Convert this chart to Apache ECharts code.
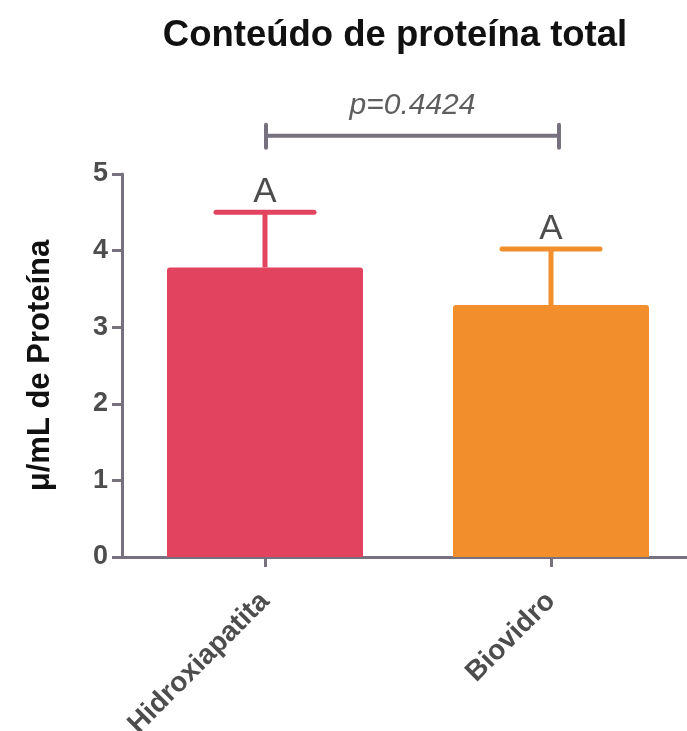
<!DOCTYPE html>
<html>
<head>
<meta charset="utf-8">
<script src="https://cdn.jsdelivr.net/npm/echarts@6/dist/echarts.min.js"></script>
<style>
  html, body { margin: 0; padding: 0; background: #fff; }
  #chart { width: 687px; height: 731px; }
</style>
</head>
<body>
<div id="chart"></div>
<script>
// Total protein content per material (mean + upper error)
const categories = ['Hidroxiapatita', 'Biovidro'];
const means = [3.78, 3.29];
const errors = [0.72, 0.73];
const groupLetters = ['A', 'A'];
const barColors = ['#E2445F', '#F28E2C'];
const yTicks = [0, 1, 2, 3, 4, 5];
const pLabel = 'p=0.4424';
const bracketLevel = 5.50;

const axisColor = '#77717F';
const labelColor = '#4D4D4D';
const font = 'Arial, "Liberation Sans", Helvetica, sans-serif';

const chart = echarts.init(document.getElementById('chart'), null, { renderer: 'canvas' });

const errData = categories.map((c, i) => [i, means[i], means[i] + errors[i], groupLetters[i]]);

chart.setOption({
  animation: false,
  backgroundColor: '#ffffff',
  title: {
    text: 'Conteúdo de proteína total',
    left: 390, top: 12, textAlign: 'center',
    textStyle: { fontFamily: font, fontWeight: 'bold', fontSize: 36.5, color: '#111' }
  },
  grid: { left: 122, width: 572, top: 174, bottom: 174, containLabel: false, outerBoundsMode: 'none' },
  xAxis: {
    type: 'category',
    data: categories,
    axisLine: { lineStyle: { color: axisColor, width: 3 } },
    axisTick: { show: true, alignWithLabel: true, length: 10, lineStyle: { color: axisColor, width: 3 } },
    axisLabel: {
      rotate: 45, margin: 40, interval: 0,
      fontFamily: font, fontWeight: 'bold', fontSize: 28, color: labelColor
    }
  },
  yAxis: {
    type: 'value',
    min: yTicks[0], max: yTicks[yTicks.length - 1], interval: 1,
    name: 'μ/mL de Proteína',
    nameLocation: 'middle', nameRotate: 90, nameGap: 66,
    nameTextStyle: { fontFamily: font, fontWeight: 'bold', fontSize: 31, color: '#111' },
    axisLine: { show: true, lineStyle: { color: axisColor, width: 3 } },
    axisTick: { show: true, length: 10, lineStyle: { color: axisColor, width: 3 } },
    splitLine: { show: false },
    axisLabel: { margin: 14, fontFamily: font, fontWeight: 'bold', fontSize: 27, color: labelColor }
  },
  series: [
    {
      type: 'bar',
      barWidth: 196,
      data: means.map((v, i) => ({ value: v, itemStyle: { color: barColors[i], borderRadius: [3, 3, 0, 0] } })),
      z: 2
    },
    {
      // upward error bars with caps and group letters
      type: 'custom',
      data: errData,
      z: 3,
      renderItem: function (params, api) {
        const i = api.value(0);
        const base = api.coord([i, api.value(1)]);
        const top = api.coord([i, api.value(2)]);
        const half = 49;
        const color = barColors[params.dataIndex];
        return {
          type: 'group',
          children: [
            { type: 'line', shape: { x1: top[0], y1: base[1], x2: top[0], y2: top[1] },
              style: { stroke: color, lineWidth: 5 } },
            { type: 'line', shape: { x1: top[0] - half, y1: top[1], x2: top[0] + half, y2: top[1] },
              style: { stroke: color, lineWidth: 5, lineCap: 'round' } },
            { type: 'text', x: top[0], y: top[1] - 20,
              style: { text: groupLetters[params.dataIndex], fontFamily: font, fontSize: 35,
                       fill: labelColor, align: 'center', verticalAlign: 'middle' } }
          ]
        };
      }
    },
    {
      // comparison bracket with p-value
      type: 'custom',
      data: [[0, 1, bracketLevel]],
      z: 3,
      renderItem: function (params, api) {
        const a = api.coord([api.value(0), api.value(2)]);
        const b = api.coord([api.value(1), api.value(2)]);
        const x1 = a[0] + 1, x2 = b[0] + 8, y = a[1];
        return {
          type: 'group',
          children: [
            { type: 'line', shape: { x1: x1, y1: y, x2: x2, y2: y }, style: { stroke: axisColor, lineWidth: 4 } },
            { type: 'line', shape: { x1: x1, y1: y - 11, x2: x1, y2: y + 12 }, style: { stroke: axisColor, lineWidth: 4, lineCap: 'round' } },
            { type: 'line', shape: { x1: x2, y1: y - 11, x2: x2, y2: y + 12 }, style: { stroke: axisColor, lineWidth: 4, lineCap: 'round' } },
            { type: 'text', x: (x1 + x2) / 2, y: y - 30,
              style: { text: pLabel, fontFamily: font, fontStyle: 'italic', fontSize: 30,
                       fill: '#5E5E5E', align: 'center', verticalAlign: 'middle' } }
          ]
        };
      }
    }
  ]
});
</script>
</body>
</html>
